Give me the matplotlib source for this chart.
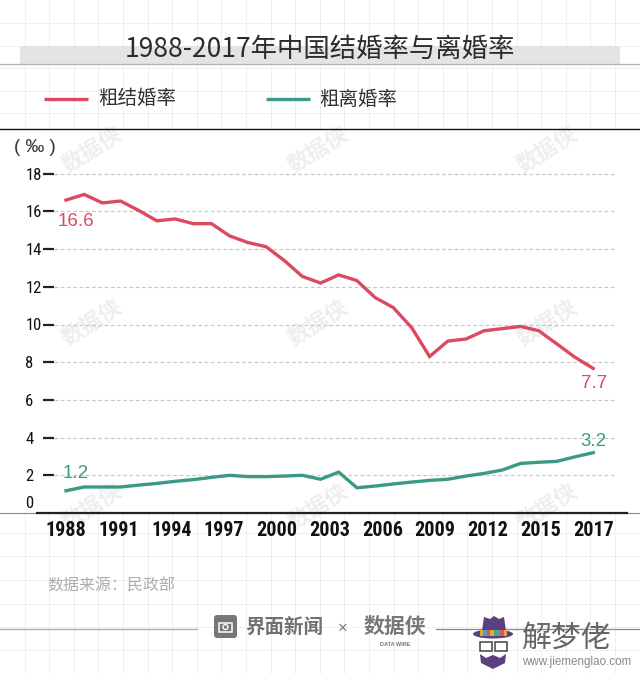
import numpy as np
import matplotlib
matplotlib.use("Agg")
import matplotlib.pyplot as plt
from matplotlib import font_manager as fm
from matplotlib.patches import Rectangle, FancyBboxPatch, Ellipse, Polygon
from matplotlib.transforms import ScaledTranslation

CJK = ['Noto Sans CJK SC', 'DejaVu Sans']
plt.rcParams['font.family'] = CJK

years = list(range(1988, 2018))
marriage = [16.6, 16.9, 16.45, 16.55, 16.05, 15.5, 15.6, 15.35, 15.35, 14.7,
            14.35, 14.13, 13.4, 12.55, 12.2, 12.63, 12.33, 11.43, 10.9, 9.85,
            8.3, 9.12, 9.23, 9.67, 9.78, 9.9, 9.67, 8.97, 8.26, 7.67]
divorce = [1.18, 1.38, 1.38, 1.38, 1.48, 1.57, 1.68, 1.77, 1.89, 2.0,
           1.93, 1.93, 1.96, 2.0, 1.79, 2.17, 1.34, 1.43, 1.54, 1.64,
           1.73, 1.79, 1.96, 2.1, 2.28, 2.63, 2.69, 2.74, 2.98, 3.2]
x_labels = ['1988', '1991', '1994', '1997', '2000', '2003', '2006', '2009', '2012', '2015', '2017']
y_ticks = [0, 2, 4, 6, 8, 10, 12, 14, 16, 18]
title = '1988-2017年中国结婚率与离婚率'
name_m, name_d = '粗结婚率', '粗离婚率'
source = '数据来源：民政部'

RED, GREEN = '#dc4a62', '#3b9a86'
W, H = 640, 674
fig = plt.figure(figsize=(W/100, H/100), dpi=100, facecolor='white')

installed = {f.name for f in fm.fontManager.ttflist}
narrow_name = next((n for n in ['Liberation Sans Narrow', 'Roboto Condensed', 'Open Sans Condensed',
                                'Noto Sans Condensed', 'DejaVu Sans Condensed'] if n in installed), None)
if narrow_name:
    tick_font, x_size, y_size = [narrow_name, 'DejaVu Sans'], 14.5, 12
else:
    tick_font, x_size, y_size = ['Liberation Sans', 'DejaVu Sans'], 11.5, 10

def px_axes(z):
    a = fig.add_axes([0, 0, 1, 1], zorder=z)
    a.set_xlim(0, W); a.set_ylim(H, 0); a.axis('off')
    return a

# background grid, white plot panel, watermarks
bg = px_axes(0)
for gx in np.arange(24.6, W, 24.6):
    bg.plot([gx, gx], [0, H], color='#eeeeee', lw=0.7, zorder=1)
for gy in [23, 46, 68, 91, 113, 533, 556, 580, 604, 627, 650]:
    bg.plot([0, W], [gy, gy], color='#eeeeee', lw=0.7, zorder=1)
panel = Rectangle((0, 129), W, 384, fc='white', ec='none', zorder=2)
bg.add_patch(panel)
for wx, wy in [(92, 150), (318, 150), (547, 150), (92, 323), (318, 323), (547, 323),
               (92, 507), (318, 507), (547, 507)]:
    t = bg.text(wx, wy, '数据侠', fontsize=16, fontweight='bold', color='#eeeeee',
                rotation=32, ha='center', va='center', zorder=3)
    t.set_clip_path(panel)

# main chart
L, R, T, B = 54, 615, 129, 513
ax = fig.add_axes([L/W, 1-B/H, (R-L)/W, (B-T)/H], zorder=1)
ax.patch.set_visible(False)
x0, xs = 66, 18.18
ys = 18.85
ax.set_xlim(1988-(x0-L)/xs, 1988+(R-x0)/xs)
ax.set_ylim(0, (B-T)/ys)
for s in ax.spines.values():
    s.set_visible(False)
ax.yaxis.grid(True, color='#c9c9c9', lw=0.9, ls=(0, (3, 2)))
ax.set_axisbelow(True)
ax.plot(years, marriage, color=RED, lw=2.4, solid_joinstyle='miter', zorder=3, clip_on=False)
ax.plot(years, divorce, color=GREEN, lw=2.4, solid_joinstyle='miter', zorder=3, clip_on=False)

ax.set_yticks(y_ticks)
ax.set_yticklabels([str(v) for v in y_ticks], family=tick_font, fontsize=y_size, color='#111111', ha='left')
ax.tick_params(axis='y', length=8.2, width=1.6, color='#222222', pad=12.5)
yt = ax.yaxis.get_major_ticks()
yt[0].tick1line.set_visible(False)
yt[0].gridline.set_visible(False)
lab0 = ax.get_yticklabels()[0]
lab0.set_transform(lab0.get_transform() + ScaledTranslation(0, 11/100, fig.dpi_scale_trans))
ax.set_xticks(np.linspace(1988, 2017, len(x_labels)))
ax.set_xticklabels(x_labels, family=tick_font, fontsize=x_size, fontweight='bold', color='#111111')
ax.tick_params(axis='x', length=0, pad=6)

# annotations and furniture
top = px_axes(2)
top.add_patch(Rectangle((20, 46), 600, 18, fc='#e4e4e4', ec='none', zorder=1))
top.plot([0, W], [64, 64], color='#b5b5b5', lw=0.9, zorder=1)
top.plot([0, W], [129, 129], color='#111111', lw=1.0)
top.plot([0, W], [513, 513], color='#888888', lw=0.8)
top.plot([37, 627], [513, 513], color='#2a1f1f', lw=1.6)
top.text(320, 49.5, title, fontsize=19, color='#2d2a2a', ha='center', va='center', zorder=3)

top.plot([44, 88], [98.7, 98.7], color=RED, lw=2.4, solid_capstyle='butt')
top.text(98, 99, name_m, fontsize=14, color='#333333', va='center')
top.plot([266, 310], [98.7, 98.7], color=GREEN, lw=2.4, solid_capstyle='butt')
top.text(319, 99, name_d, fontsize=14, color='#333333', va='center')
top.text(35, 148, '( ‰ )', fontsize=13.5, color='#333333', ha='center', va='center',
         family=['Liberation Sans', 'DejaVu Sans'])

lab = dict(family=['Liberation Sans', 'DejaVu Sans'], fontsize=13.5, ha='center', va='center')
top.text(76, 221, f'{marriage[0]:.1f}', color=RED, **lab)
top.text(75.5, 473, '1.2', color=GREEN, **lab)
top.text(593, 441, f'{divorce[-1]:.1f}', color=GREEN, **lab)
top.text(594, 384, f'{marriage[-1]:.1f}', color=RED, **lab)

top.text(47, 586, source, fontsize=11.5, color='#adadad', va='center')

# footer
top.plot([0, 197], [628.5, 628.5], color='#a8a8a8', lw=0.9)
top.plot([436, W], [628.5, 628.5], color='#8a8a8a', lw=0.9)
top.add_patch(FancyBboxPatch((217, 618), 17, 17, boxstyle='round,pad=3,rounding_size=3', fc='#777777', ec='none'))
top.add_patch(Rectangle((219, 622.5), 13, 9, fc='none', ec='white', lw=1.1))
top.add_patch(Ellipse((225.5, 627), 5, 5, fc='none', ec='white', lw=1))
top.text(245, 628, '界面新闻', fontsize=14, fontweight='bold', color='#707070', va='center')
top.text(343, 628, '×', fontsize=12, color='#777777', ha='center', va='center',
         family=['Liberation Sans', 'DejaVu Sans'])
top.text(395, 626, '数据侠', fontsize=15, fontweight='bold', color='#777777', ha='center', va='center')
top.text(395, 644, 'DATA WIRE', fontsize=4, fontweight='bold', color='#777777', ha='center', va='center',
         family=['Liberation Sans', 'DejaVu Sans'])

# hat logo
PUR = '#5b3f7f'
top.add_patch(Polygon([(482, 631), (484, 617), (490, 619), (494, 616), (499, 619), (504, 617), (506, 631)],
                      fc=PUR, ec='none', zorder=3))
top.add_patch(Ellipse((493, 634), 40, 9, fc=PUR, ec='none', zorder=3))
for i, c in enumerate(['#e8a33c', '#3fa7c4', '#d8574f', '#e8a33c', '#4aa96c', '#3fa7c4', '#d8574f', '#e8a33c']):
    top.add_patch(Rectangle((480 + i*3.4, 630), 3.4, 5.5, fc=c, ec='none', zorder=4))
for gx in [480, 495]:
    top.add_patch(Rectangle((gx, 642), 12, 8.5, fc='white', ec='#444444', lw=1.1, zorder=3))
top.add_patch(Polygon([(480, 654), (486, 658), (493, 655), (500, 658), (506, 654), (505, 663), (493, 669), (481, 663)],
                      fc=PUR, ec='none', zorder=3))
top.text(565.5, 638, '解梦佬', fontsize=21.5, color='#666666', ha='center', va='center', zorder=3)
top.text(522, 662, 'www.jiemenglao.com', fontsize=8.4, color='#8a8a8a', va='center', zorder=3,
         family=['Liberation Sans', 'DejaVu Sans'])

fig.savefig('out.png', dpi=100)
